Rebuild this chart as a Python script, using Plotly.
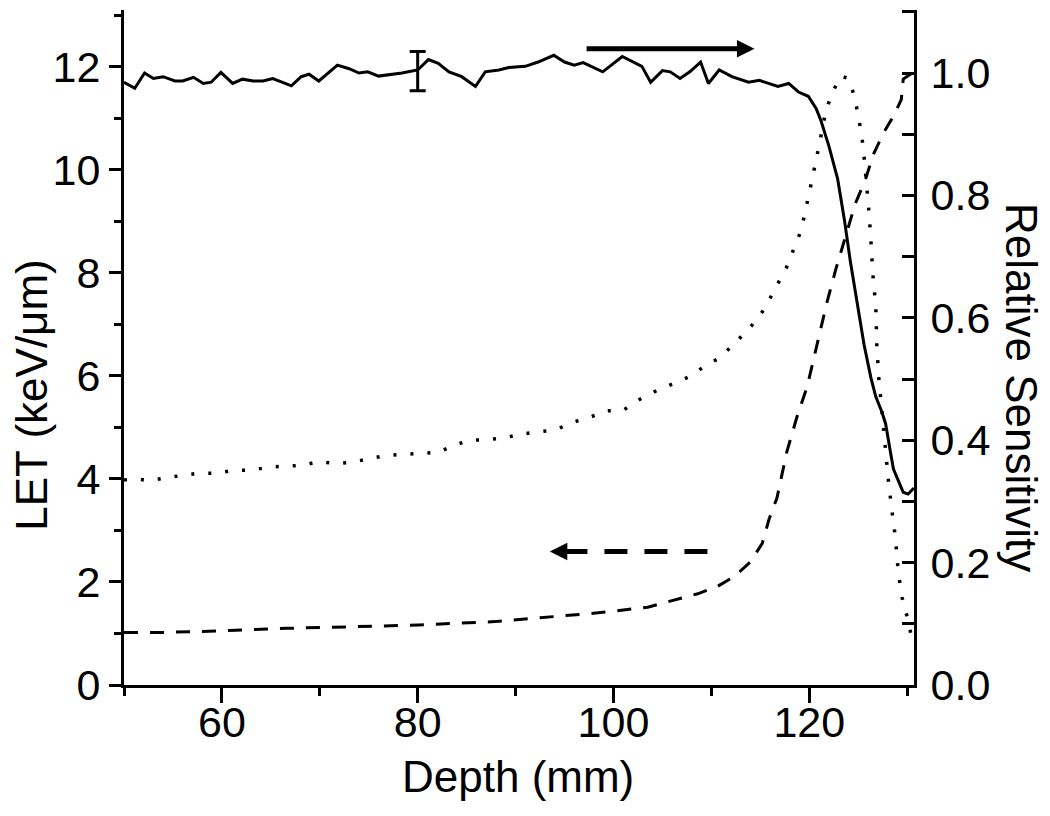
import plotly.graph_objects as go

# ---- data ----
# Solid curve: relative sensitivity (right axis)
sens_depth = [50.0, 51.1, 52.1, 53.0, 54.0, 55.2, 56.0, 57.1, 58.1, 58.9, 59.9, 61.1, 62.1, 63.2, 64.2,
              65.2, 67.1, 68.1, 68.9, 69.9, 71.8, 73.0, 74.0, 74.9, 76.0, 77.1, 78.4, 80.0, 81.1, 82.1,
              83.2, 84.5, 85.9, 86.9, 88.3, 89.3, 91.0, 92.3, 93.9, 95.0, 96.0, 96.9, 98.9, 100.9, 102.3,
              102.9, 103.8, 105.0, 105.8, 106.8, 107.8, 108.9, 109.7, 110.8, 112.1, 113.8, 114.9, 116.8,
              117.9, 118.9, 119.9, 120.7, 121.2, 122.0, 122.9, 123.6, 124.2, 124.9, 125.6, 126.3, 126.8,
              127.4, 127.8, 128.3, 128.6, 129.6, 130.1, 130.7]
sens_value = [0.985, 0.975, 1.000, 0.991, 0.994, 0.987, 0.987, 0.993, 0.983, 0.985, 1.001, 0.983, 0.990,
              0.987, 0.987, 0.991, 0.979, 0.994, 0.998, 0.987, 1.013, 1.007, 1.000, 1.002, 0.995, 0.997,
              1.000, 1.005, 1.022, 1.016, 1.002, 0.994, 0.978, 1.002, 1.005, 1.009, 1.011, 1.018, 1.029,
              1.018, 1.013, 1.017, 1.002, 1.027, 1.016, 1.011, 0.985, 1.004, 1.002, 0.991, 1.002, 1.018,
              0.983, 1.005, 0.994, 0.985, 0.988, 0.978, 0.983, 0.969, 0.962, 0.942, 0.922, 0.881, 0.827,
              0.759, 0.692, 0.624, 0.556, 0.502, 0.471, 0.447, 0.427, 0.380, 0.353, 0.315, 0.312, 0.322]

# Error bar on the sensitivity curve
err_depth = [80.0]
err_value = [1.003]
err_size = [0.032]

# Dotted curve: depth dose (right axis)
dose_depth = [50.0, 51.0, 52.6, 54.3, 56.1, 57.7, 59.5, 61.3, 63.0, 64.8, 66.4, 68.2, 69.9, 71.6, 73.3,
              75.0, 76.7, 78.6, 80.3, 82.1, 83.7, 85.4, 87.2, 88.9, 90.6, 92.3, 94.1, 95.8, 97.5, 99.3,
              101.0, 102.7, 104.4, 106.2, 107.9, 109.3, 110.8, 112.5, 114.1, 115.5, 116.6, 117.5, 118.3,
              119.0, 119.5, 120.2, 120.7, 121.0, 121.7, 122.4, 123.2, 124.0, 124.6, 125.1, 125.5, 125.8,
              126.1, 126.3, 126.5, 126.8, 126.9, 127.1, 127.4, 127.8, 128.1, 128.5, 128.8, 129.1, 129.5,
              129.8, 130.2, 130.5]
dose_value = [0.335, 0.337, 0.334, 0.339, 0.343, 0.346, 0.346, 0.351, 0.351, 0.356, 0.358, 0.359, 0.365,
              0.362, 0.364, 0.370, 0.375, 0.377, 0.379, 0.380, 0.392, 0.400, 0.401, 0.404, 0.410, 0.413,
              0.417, 0.429, 0.437, 0.448, 0.449, 0.467, 0.481, 0.493, 0.505, 0.521, 0.534, 0.560, 0.587,
              0.616, 0.651, 0.675, 0.708, 0.736, 0.766, 0.820, 0.854, 0.881, 0.939, 0.969, 0.995, 0.991,
              0.963, 0.922, 0.881, 0.834, 0.773, 0.725, 0.671, 0.617, 0.556, 0.502, 0.447, 0.386, 0.332,
              0.278, 0.241, 0.183, 0.142, 0.122, 0.102, 0.068]

# Dashed curve: LET (left axis)
let_depth = [50.0, 54.0, 59.8, 66.6, 73.3, 80.1, 87.9, 93.3, 98.4, 103.5, 106.2, 108.6, 110.6, 112.3,
             114.0, 115.2, 115.9, 116.7, 117.7, 118.8, 119.8, 120.8, 121.8, 122.7, 123.7, 124.7, 125.7,
             126.6, 127.6, 128.6, 129.4, 129.6, 130.7]
let_value = [1.02, 1.02, 1.05, 1.10, 1.13, 1.165, 1.23, 1.31, 1.40, 1.51, 1.65, 1.77, 1.91, 2.10, 2.39,
             2.75, 3.22, 3.63, 4.52, 5.24, 5.80, 6.61, 7.42, 8.06, 8.70, 9.34, 9.79, 10.32, 10.72, 11.04,
             11.36, 11.76, 11.9]

# Arrows (depth start, depth end, LET-axis height)
solid_arrow = (97.1, 114.4, 12.35)
dashed_arrow = (109.6, 93.5, 2.59)

# Axis settings
x_range = [50, 130.7]
y_left_range = [0, 13.1]
y_right_range = [0, 1.103]

FONT = "Liberation Sans, Arial, Helvetica, sans-serif"
TICK_SIZE = 43
TITLE_SIZE = 44

fig = go.Figure()

fig.add_trace(go.Scatter(x=let_depth, y=let_value, mode="lines", yaxis="y",
                         line=dict(color="black", width=3, dash="14px,12px"), showlegend=False))
fig.add_trace(go.Scatter(x=dose_depth, y=dose_value, mode="lines", yaxis="y2",
                         line=dict(color="black", width=3.5, dash="3px,14px"), showlegend=False))
fig.add_trace(go.Scatter(x=sens_depth, y=sens_value, mode="lines", yaxis="y2",
                         line=dict(color="black", width=3), showlegend=False))
fig.add_trace(go.Scatter(x=err_depth, y=err_value, mode="markers", yaxis="y2",
                         marker=dict(size=1, color="black"),
                         error_y=dict(type="data", array=err_size, visible=True, color="black",
                                      thickness=3, width=8),
                         showlegend=False))

axis_common = dict(showline=True, linecolor="black", linewidth=3, showgrid=False, zeroline=False,
                   tickcolor="black", tickwidth=3,
                   tickfont=dict(family=FONT, size=TICK_SIZE, color="black"))

fig.update_layout(
    width=1050, height=816,
    margin=dict(l=124, r=136, t=10, b=131),
    paper_bgcolor="white", plot_bgcolor="white",
    showlegend=False,
    xaxis=dict(range=x_range, tick0=0, dtick=20, ticks="outside", ticklen=15,
               ticklabelstandoff=-18,
               minor=dict(dtick=10, tick0=0, ticks="outside", ticklen=8, tickwidth=3, tickcolor="black"),
               **axis_common),
    yaxis=dict(range=y_left_range, tick0=0, dtick=2, ticks="outside", ticklen=12,
               minor=dict(dtick=1, tick0=0, ticks="outside", ticklen=7, tickwidth=3, tickcolor="black"),
               **axis_common),
    yaxis2=dict(range=y_right_range, overlaying="y", side="right", anchor="x",
                tick0=0, dtick=0.2, tickformat=".1f", ticks="inside", ticklen=12,
                ticklabelstandoff=5,
                minor=dict(dtick=0.1, tick0=0, ticks="inside", ticklen=12, tickwidth=3, tickcolor="black"),
                **axis_common),
)

# Axis titles
fig.add_annotation(text="Depth (mm)", xref="paper", yref="paper", x=0.4987, y=-0.136,
                   xanchor="center", yanchor="middle", showarrow=False,
                   font=dict(family=FONT, size=TITLE_SIZE, color="black"))
fig.add_annotation(text="LET (keV/μm)", xref="paper", yref="paper", x=-0.1165, y=0.43,
                   xanchor="center", yanchor="middle", textangle=-90, showarrow=False,
                   font=dict(family=FONT, size=TITLE_SIZE, color="black"))
fig.add_annotation(text="Relative Sensitivity", xref="paper", yref="paper", x=1.1367, y=0.44,
                   xanchor="center", yanchor="middle", textangle=90, showarrow=False,
                   font=dict(family=FONT, size=TITLE_SIZE, color="black"))

# Solid arrow (pointing right -> right axis)
fig.add_annotation(x=solid_arrow[1], y=solid_arrow[2], ax=solid_arrow[0], ay=solid_arrow[2],
                   xref="x", yref="y", axref="x", ayref="y", text="", showarrow=True,
                   arrowhead=2, arrowsize=0.7, arrowwidth=5, arrowcolor="black")

# Dashed arrow (pointing left -> left axis): dashed body + head
fig.add_shape(type="line", xref="x", yref="y", x0=dashed_arrow[0], y0=dashed_arrow[2],
              x1=dashed_arrow[1] + 1.2, y1=dashed_arrow[2],
              line=dict(color="black", width=5, dash="23px,17px"))
fig.add_annotation(x=dashed_arrow[1], y=dashed_arrow[2], ax=dashed_arrow[1] + 2.5, ay=dashed_arrow[2],
                   xref="x", yref="y", axref="x", ayref="y", text="", showarrow=True,
                   arrowhead=2, arrowsize=0.7, arrowwidth=5, arrowcolor="black")

fig.write_html("out.html", config={"displayModeBar": False},
               post_script="document.body.style.margin='0';")
